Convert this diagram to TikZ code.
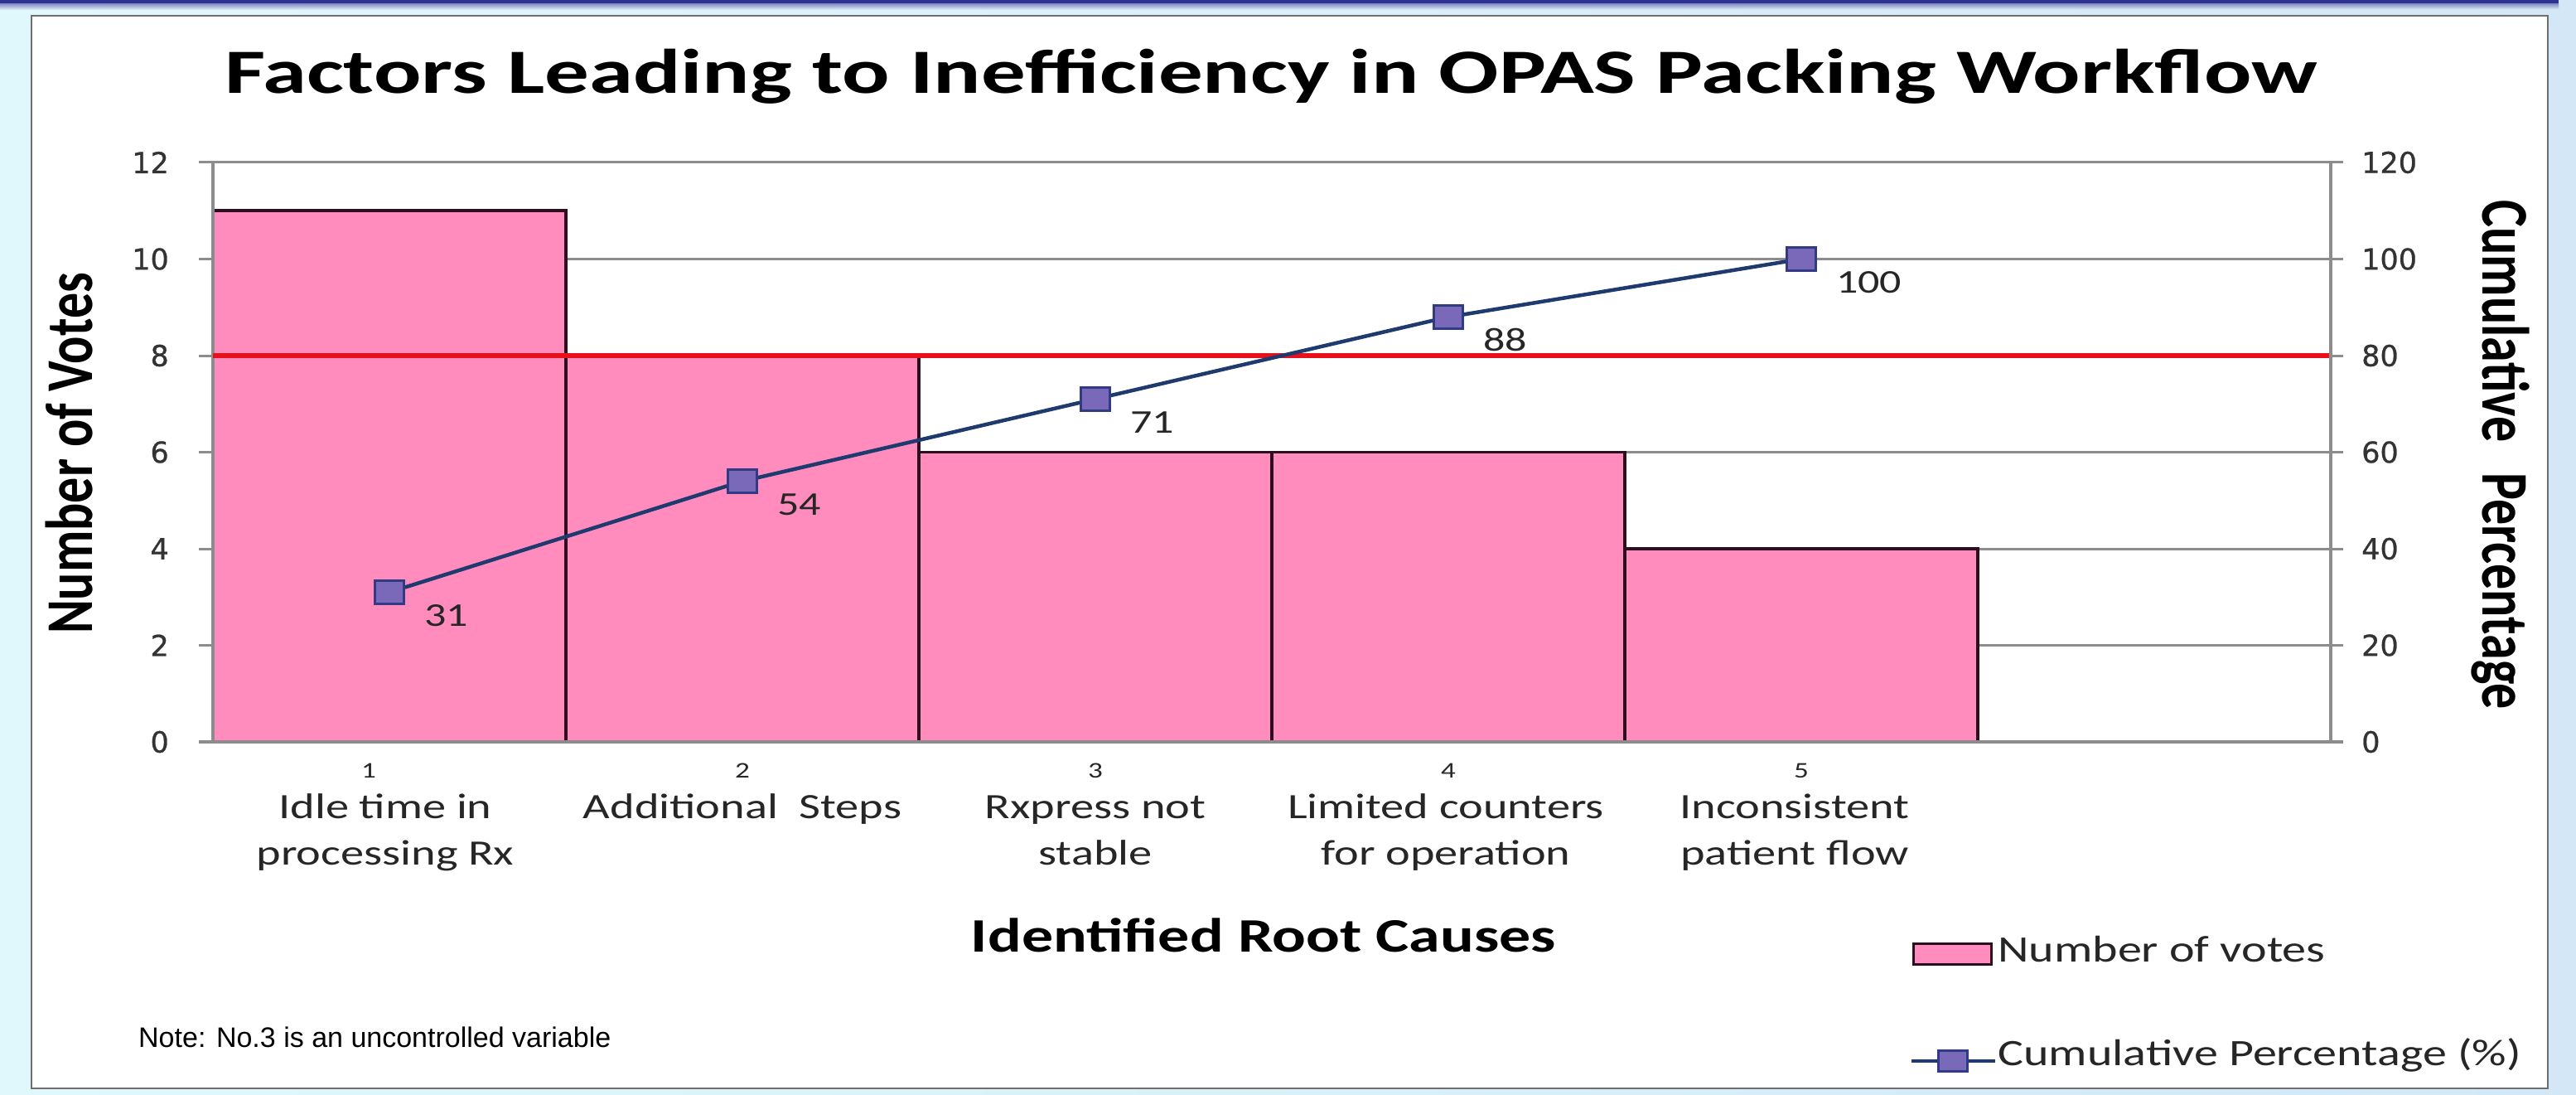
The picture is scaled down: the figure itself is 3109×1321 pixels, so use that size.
\documentclass[tikz,border=0pt]{standalone}
\usepackage{fontspec}
\usepackage{graphicx}
\setmainfont{Carlito}
\newfontfamily\tickfont[FakeBold=0.7]{DejaVu Sans}
\newfontfamily\notefont{Liberation Sans}
\usetikzlibrary{calc}
\definecolor{bgleft}{HTML}{E0F8FC}
\definecolor{bgright}{HTML}{D3E7F6}
\definecolor{topblue}{HTML}{2E318F}
\definecolor{framegray}{HTML}{6E6E6E}
\definecolor{gridgray}{HTML}{8C8C8C}
\definecolor{barpink}{HTML}{FF8CBD}
\definecolor{barline}{HTML}{2B0F1E}
\definecolor{redline}{HTML}{E8101A}
\definecolor{seriesblue}{HTML}{1E3A6E}
\definecolor{mkfill}{HTML}{7A68B8}
\definecolor{mkdraw}{HTML}{313A85}
\definecolor{textdark}{HTML}{262626}
\definecolor{ticktext}{HTML}{333333}
\newcommand\fsz[1]{\fontsize{#1}{#1}\selectfont}
\newcommand\hs[2]{\scalebox{#1}[1]{#2}}
\newcommand\vs[2]{\scalebox{1}[#1]{#2}}
\newcommand\twoline[2]{\fontsize{43}{56}\selectfont\begin{tabular}[t]{@{}c@{}}#1\\#2\end{tabular}}
\tikzset{
  gridln/.style={draw=gridgray, line width=3},
  axisln/.style={draw=gridgray, line width=4},
  vbar/.style={fill=barpink, draw=barline, line width=3.5},
  mk/.style={rectangle, minimum width=35, minimum height=28, inner sep=0, fill=mkfill, draw=mkdraw, line width=2.5},
  seriesln/.style={draw=seriesblue, line width=4.5},
  ticklab/.style={inner sep=0, text=ticktext, font=\tickfont\fsz{35}},
  dlab/.style={inner sep=0, anchor=base west, text=textdark},
  catnum/.style={inner sep=0, anchor=base, text=textdark},
  catlab/.style={inner sep=0, anchor=base, text=textdark},
  plain/.style={inner sep=0, text=black}
}
\begin{document}
\begin{tikzpicture}[x=1pt,y=-1pt]
\useasboundingbox (0,0) rectangle (3109,1321);
% background
\shade[left color=bgleft, right color=bgright] (0,0) rectangle (3109,1321);
\fill[topblue] (0,0) rectangle (3088,5);
\shade[top color=topblue!45!bgright, bottom color=bgright!60!white] (0,5) rectangle (3088,12);
% frame
\filldraw[fill=white, draw=framegray, line width=2.5] (38,19) rectangle (3075,1313);
% title
\node[plain, anchor=base] (title) at (1534,113) {\hs{1.408}{\bfseries\fsz{76}Factors Leading to Inefficiency in OPAS Packing Workflow}};
% gridlines
\foreach \v in {2,4,...,12} \draw[gridln] (240,{895-\v*58.25}) -- (2828,{895-\v*58.25});
% bars
\foreach \i/\h in {0/11,1/8,2/6,3/6,4/4}
  \filldraw[vbar] ({257+\i*426},895) rectangle ({257+(\i+1)*426},{895-\h*58.25});
% axes
\draw[axisln] (240,895) -- (2828,895);
\draw[axisln] (257,196) -- (257,895);
\draw[axisln] (2813,196) -- (2813,895);
% red 80% line
\draw[draw=redline, line width=6] (257,429) -- (2811,429);
% tick labels
\foreach \v in {0,2,...,12} \node[ticklab, anchor=east] (yl\v) at (204,{895-\v*58.25}) {\v};
\foreach \v in {0,...,6} {
  \pgfmathtruncatemacro\p{\v*20}
  \node[ticklab, anchor=west] (yr\v) at (2850,{895-\v*116.5}) {\p};
}
% series
\node[mk] (m1) at (470,714.4) {};
\node[mk] (m2) at (896,580.5) {};
\node[mk] (m3) at (1322,481.4) {};
\node[mk] (m4) at (1748,382.4) {};
\node[mk] (m5) at (2174,312.5) {};
\draw[seriesln] (m1) -- (m2) -- (m3) -- (m4) -- (m5);
\foreach \n/\t in {m1/31,m2/54,m3/71,m4/88,m5/100}
  \node[dlab] (l\n) at ($(\n.center)+(42,41)$) {\hs{1.3}{\fsz{40}\t}};
% category numbers and labels
\foreach \i/\x in {1/445,2/896,3/1322,4/1748,5/2174}
  \node[catnum] (cn\i) at (\x,938) {\hs{1.3}{\fsz{27}\i}};
\node[catlab] (c1) at (465,987) {\hs{1.31}{\twoline{Idle time in}{processing Rx}}};
\node[catlab] (c2) at (896,987) {\hs{1.31}{\fsz{43}Additional\ \ Steps}};
\node[catlab] (c3) at (1322,987) {\hs{1.31}{\twoline{Rxpress not}{stable}}};
\node[catlab] (c4) at (1745,987) {\hs{1.31}{\twoline{Limited counters}{for operation}}};
\node[catlab] (c5) at (2166,987) {\hs{1.31}{\twoline{Inconsistent}{patient flow}}};
% axis titles
\node[plain, anchor=base] (xtitle) at (1525,1148) {\hs{1.31}{\bfseries\fsz{58}Identified Root Causes}};
\node[plain, rotate=90] (ytitle) at (84,547) {\vs{1.3}{\bfseries\fsz{62}Number of Votes}};
\node[plain, rotate=-90] (y2title) at (3018,549) {\vs{1.3}{\bfseries\fsz{62}Cumulative\hspace{0.6em}Percentage}};
% legend
\node[rectangle, inner sep=0, minimum width=94, minimum height=25, fill=barpink, draw=barline, line width=3] (lgbox) at (2356,1150.5) {};
\node[plain, anchor=base west, text=textdark] (lgt1) at (2411,1160) {\hs{1.29}{\fsz{45}Number of votes}};
\coordinate (lga) at (2307,1280);
\coordinate (lgb) at (2408,1280);
\draw[seriesln] (lga) -- (lgb);
\node[mk, minimum height=25] (lgm) at (2357,1280) {};
\node[plain, anchor=base west, text=textdark] (lgt2) at (2411,1285) {\hs{1.29}{\fsz{45}Cumulative Percentage (\%)}};
% note
\node[plain, anchor=base west] (note) at (167,1263) {\hs{1.0}{\notefont\fsz{34}Note: No.3 is an uncontrolled variable}};
\end{tikzpicture}
\end{document}
